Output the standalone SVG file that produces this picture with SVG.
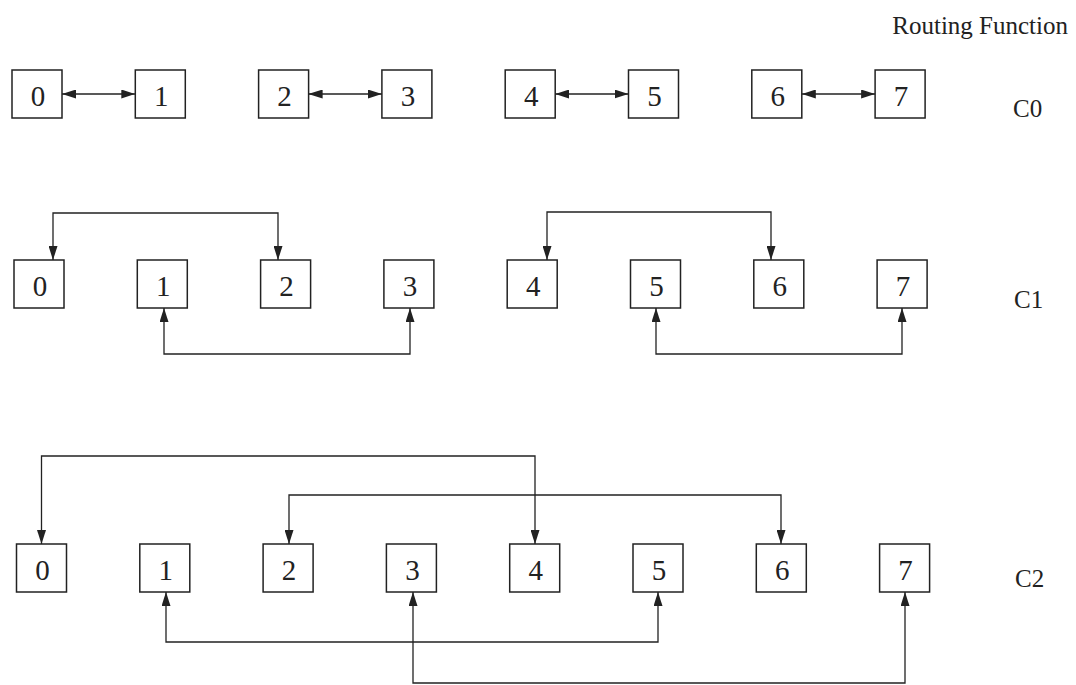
<svg xmlns="http://www.w3.org/2000/svg" width="1076" height="685" viewBox="0 0 1076 685">
<style>
.box rect{fill:#fff;stroke:#222;stroke-width:1.5}
.box text{font-family:"Liberation Serif",serif;font-size:29px;fill:#222;text-anchor:middle}
.lbl{font-family:"Liberation Serif",serif;font-size:25px;fill:#222}
#connectors path{fill:none;stroke:#222;stroke-width:1.3}
</style>
<defs>
<marker id="ah" viewBox="0 0 14 9" refX="14" refY="4.5" markerWidth="14" markerHeight="9" markerUnits="userSpaceOnUse" orient="auto-start-reverse">
<path d="M0,0 L14,4.5 L0,9 z" fill="#222"/>
</marker>
</defs>
<rect width="1076" height="685" fill="#fff"/>
<text class="lbl" x="1068" y="34" text-anchor="end">Routing Function</text>
<text class="lbl" x="1013" y="117">C0</text>
<text class="lbl" x="1014" y="308">C1</text>
<text class="lbl" x="1015" y="587">C2</text>

<g id="row-c0">
<g id="c0-n0" class="box"><rect x="12" y="70" width="50" height="48"/><text x="38" y="106">0</text></g>
<g id="c0-n1" class="box"><rect x="135.3" y="70" width="50" height="48"/><text x="161.3" y="106">1</text></g>
<g id="c0-n2" class="box"><rect x="258.6" y="70" width="50" height="48"/><text x="284.6" y="106">2</text></g>
<g id="c0-n3" class="box"><rect x="381.9" y="70" width="50" height="48"/><text x="407.9" y="106">3</text></g>
<g id="c0-n4" class="box"><rect x="505.2" y="70" width="50" height="48"/><text x="531.2" y="106">4</text></g>
<g id="c0-n5" class="box"><rect x="628.5" y="70" width="50" height="48"/><text x="654.5" y="106">5</text></g>
<g id="c0-n6" class="box"><rect x="751.8" y="70" width="50" height="48"/><text x="777.8" y="106">6</text></g>
<g id="c0-n7" class="box"><rect x="875.1" y="70" width="50" height="48"/><text x="901.1" y="106">7</text></g>
</g>

<g id="row-c1">
<g id="c1-n0" class="box"><rect x="14" y="260" width="50" height="48"/><text x="40" y="296">0</text></g>
<g id="c1-n1" class="box"><rect x="137.3" y="260" width="50" height="48"/><text x="163.3" y="296">1</text></g>
<g id="c1-n2" class="box"><rect x="260.6" y="260" width="50" height="48"/><text x="286.6" y="296">2</text></g>
<g id="c1-n3" class="box"><rect x="383.9" y="260" width="50" height="48"/><text x="409.9" y="296">3</text></g>
<g id="c1-n4" class="box"><rect x="507.2" y="260" width="50" height="48"/><text x="533.2" y="296">4</text></g>
<g id="c1-n5" class="box"><rect x="630.5" y="260" width="50" height="48"/><text x="656.5" y="296">5</text></g>
<g id="c1-n6" class="box"><rect x="753.8" y="260" width="50" height="48"/><text x="779.8" y="296">6</text></g>
<g id="c1-n7" class="box"><rect x="877.1" y="260" width="50" height="48"/><text x="903.1" y="296">7</text></g>
</g>

<g id="row-c2">
<g id="c2-n0" class="box"><rect x="16.5" y="544" width="50" height="48"/><text x="42.5" y="580">0</text></g>
<g id="c2-n1" class="box"><rect x="139.8" y="544" width="50" height="48"/><text x="165.8" y="580">1</text></g>
<g id="c2-n2" class="box"><rect x="263.1" y="544" width="50" height="48"/><text x="289.1" y="580">2</text></g>
<g id="c2-n3" class="box"><rect x="386.4" y="544" width="50" height="48"/><text x="412.4" y="580">3</text></g>
<g id="c2-n4" class="box"><rect x="509.7" y="544" width="50" height="48"/><text x="535.7" y="580">4</text></g>
<g id="c2-n5" class="box"><rect x="633" y="544" width="50" height="48"/><text x="659" y="580">5</text></g>
<g id="c2-n6" class="box"><rect x="756.3" y="544" width="50" height="48"/><text x="782.3" y="580">6</text></g>
<g id="c2-n7" class="box"><rect x="879.6" y="544" width="50" height="48"/><text x="905.6" y="580">7</text></g>
</g>

<g id="connectors">
<path d="M62,94 H135.3" marker-start="url(#ah)" marker-end="url(#ah)"/>
<path d="M308.6,94 H381.9" marker-start="url(#ah)" marker-end="url(#ah)"/>
<path d="M555.2,94 H628.5" marker-start="url(#ah)" marker-end="url(#ah)"/>
<path d="M801.8,94 H875.1" marker-start="url(#ah)" marker-end="url(#ah)"/>

<path d="M53,260 V213 H278 V260" marker-start="url(#ah)" marker-end="url(#ah)"/>
<path d="M547,260 V212 H771 V260" marker-start="url(#ah)" marker-end="url(#ah)"/>
<path d="M164,308 V354 H410 V308" marker-start="url(#ah)" marker-end="url(#ah)"/>
<path d="M656,308 V354 H902 V308" marker-start="url(#ah)" marker-end="url(#ah)"/>

<path d="M41.5,544 V456 H535 V544" marker-start="url(#ah)" marker-end="url(#ah)"/>
<path d="M289,544 V495 H781 V544" marker-start="url(#ah)" marker-end="url(#ah)"/>
<path d="M166,592 V642 H658 V592" marker-start="url(#ah)" marker-end="url(#ah)"/>
<path d="M413,592 V683 H905 V592" marker-start="url(#ah)" marker-end="url(#ah)"/>
</g>
</svg>
